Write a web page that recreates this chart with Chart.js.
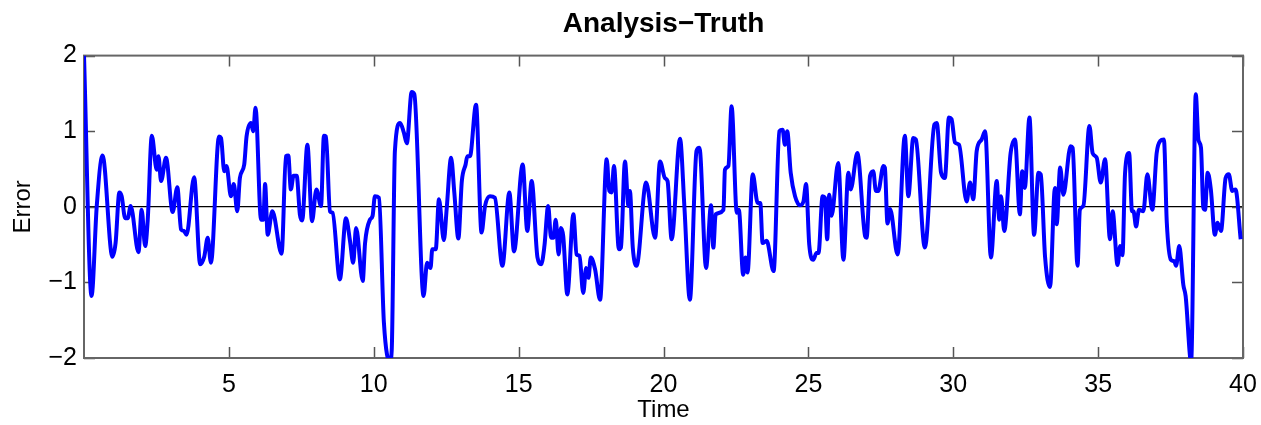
<!doctype html>
<html lang="en">
<head>
  <title>Analysis−Truth</title>
  <meta charset="utf-8">
  <script src="https://cdn.jsdelivr.net/npm/chart.js@4.4.1/dist/chart.umd.min.js"></script>
  <style>
    html, body { margin: 0; padding: 0; background: #fff; }
    #wrap { width: 1261px; height: 425px; }
  </style>
</head>

<body>
  <div id="wrap"><canvas id="errorChart"></canvas></div>

  <script>
    // values (time, analysis minus truth)
    var times = [
      0.00, 0.26, 0.44, 0.64, 0.98, 1.09, 1.22, 1.30, 1.42, 1.51, 1.61, 1.88, 1.99, 2.11, 2.20, 2.34, 2.51, 2.57, 2.66, 2.83,
      3.06, 3.22, 3.35, 3.45, 3.54, 3.80, 4.01, 4.15, 4.27, 4.38, 4.66, 4.73, 4.84, 4.92, 5.07, 5.17, 5.29, 5.38, 5.53, 5.61,
      5.76, 5.84, 5.92, 6.11, 6.19, 6.25, 6.34, 6.50, 6.82, 6.97, 7.05, 7.14, 7.23, 7.34, 7.45, 7.53, 7.71, 7.87, 8.02, 8.18,
      8.28, 8.35, 8.49, 8.58, 8.83, 9.04, 9.18, 9.29, 9.39, 9.62, 9.70, 9.87, 9.96, 10.04, 10.18, 10.35, 10.56, 10.62, 10.73, 10.91,
      11.04, 11.14, 11.31, 11.40, 11.72, 11.84, 11.96, 12.02, 12.14, 12.25, 12.42, 12.52, 12.67, 12.78, 12.92, 13.04, 13.17, 13.23, 13.32, 13.53,
      13.72, 13.84, 14.01, 14.18, 14.44, 14.68, 14.84, 15.14, 15.30, 15.45, 15.65, 15.78, 15.89, 16.02, 16.12, 16.20, 16.28, 16.38, 16.46, 16.54,
      16.68, 16.89, 17.00, 17.10, 17.23, 17.33, 17.41, 17.49, 17.64, 17.81, 18.04, 18.13, 18.21, 18.29, 18.46, 18.53, 18.67, 18.79, 18.84, 18.94,
      19.07, 19.40, 19.71, 19.88, 20.05, 20.14, 20.28, 20.57, 20.72, 20.91, 21.14, 21.24, 21.47, 21.64, 21.72, 21.80, 22.07, 22.12, 22.24, 22.35,
      22.53, 22.60, 22.75, 22.83, 22.90, 23.08, 23.25, 23.34, 23.42, 23.56, 23.80, 24.00, 24.11, 24.19, 24.27, 24.39, 24.54, 24.71, 24.83, 24.92,
      25.03, 25.17, 25.28, 25.35, 25.49, 25.57, 25.65, 25.72, 25.80, 26.03, 26.21, 26.38, 26.46, 26.69, 26.96, 27.01, 27.13, 27.24, 27.33, 27.41,
      27.59, 27.64, 27.73, 27.82, 28.08, 28.33, 28.45, 28.62, 28.71, 29.02, 29.35, 29.43, 29.58, 29.71, 29.85, 29.94, 30.06, 30.20, 30.46, 30.58,
      30.69, 30.81, 30.98, 31.10, 31.30, 31.50, 31.59, 31.65, 31.76, 31.98, 32.13, 32.30, 32.38, 32.47, 32.63, 32.79, 32.94, 33.02, 33.17, 33.34,
      33.51, 33.57, 33.69, 33.80, 34.05, 34.12, 34.29, 34.37, 34.49, 34.70, 34.81, 34.95, 35.09, 35.24, 35.41, 35.50, 35.67, 35.76, 35.84, 35.93,
      36.07, 36.17, 36.22, 36.31, 36.41, 36.56, 36.70, 36.87, 37.02, 37.14, 37.27, 37.37, 37.51, 37.63, 37.69, 37.80, 37.94, 38.02, 38.21, 38.37,
      38.46, 38.55, 38.63, 38.69, 38.78, 38.89, 39.03, 39.12, 39.24, 39.40, 39.51, 39.63, 39.74, 39.92
    ];
    var errors = [
      2.00, -1.18, 0.01, 0.68, -0.66, -0.48, 0.19, 0.14, -0.15, -0.15, 0.01, -0.60, -0.04, -0.52, -0.17, 0.94, 0.49, 0.67, 0.34, 0.65,
      -0.07, 0.26, -0.30, -0.32, -0.37, 0.39, -0.76, -0.66, -0.41, -0.74, 0.93, 0.91, 0.47, 0.54, 0.14, 0.30, -0.06, 0.38, 0.56, 0.93,
      1.11, 1.00, 1.31, -0.17, -0.17, 0.30, -0.37, -0.06, -0.62, 0.67, 0.68, 0.23, 0.41, 0.41, -0.10, -0.18, 0.82, -0.19, 0.23, 0.01,
      0.94, 0.93, -0.06, -0.08, -0.96, -0.15, -0.45, -0.74, -0.28, -0.98, -0.48, -0.17, -0.12, 0.14, 0.12, -1.53, -2.05, -1.90, 0.74, 1.11,
      0.98, 0.84, 1.52, 1.49, -1.18, -0.74, -0.81, -0.56, -0.56, 0.10, -0.44, -0.01, 0.65, 0.19, -0.42, 0.34, 0.56, 0.67, 0.67, 1.35,
      -0.34, 0.01, 0.14, 0.12, -0.78, 0.19, -0.59, 0.56, -0.32, 0.34, -0.67, -0.76, -0.52, 0.01, -0.41, -0.41, -0.17, -0.63, -0.28, -0.39,
      -1.16, -0.10, -0.63, -0.65, -1.14, -0.81, -0.94, -0.67, -0.83, -1.23, 0.63, 0.21, 0.19, 0.54, -0.56, -0.54, 0.60, 0.01, 0.21, -0.54,
      -0.78, 0.32, -0.41, 0.60, 0.38, 0.34, -0.43, 0.90, 0.01, -1.23, 0.74, 0.78, -0.81, 0.02, -0.54, -0.10, -0.04, 0.49, 0.54, 1.33,
      -0.08, -0.04, -0.90, -0.67, -0.87, 0.43, 0.05, 0.05, -0.48, -0.45, -0.85, 1.00, 1.02, 0.82, 1.00, 0.45, 0.14, 0.02, 0.07, 0.30,
      -0.50, -0.70, -0.61, -0.61, 0.14, 0.12, -0.43, 0.16, -0.12, 0.58, -0.70, 0.45, 0.23, 0.71, -0.39, -0.41, 0.41, 0.47, 0.21, 0.21,
      0.54, 0.52, -0.22, -0.03, -0.63, 0.94, 0.14, 0.91, 0.89, -0.54, 1.09, 1.11, 0.45, 0.38, 1.18, 1.16, 0.85, 0.82, 0.07, 0.32,
      0.10, 0.74, 0.89, 1.00, -0.67, 0.34, -0.17, 0.14, -0.32, 0.71, 0.89, -0.10, 0.47, 0.25, 1.18, -0.37, 0.45, 0.43, -0.67, -1.06,
      0.25, -0.23, 0.52, 0.16, 0.80, 0.78, -0.78, -0.04, 0.01, 1.07, 0.71, 0.65, 0.32, 0.63, -0.43, -0.06, -0.77, -0.52, -0.64, 0.45,
      0.71, -0.06, -0.06, -0.26, -0.04, -0.06, 0.43, -0.04, 0.71, 0.87, 0.89, -0.21, -0.70, -0.72, -0.78, -0.52, -1.03, -1.18, -2.05, 1.49,
      0.89, 0.78, -0.01, -0.04, 0.45, 0.23, -0.37, -0.21, -0.32, 0.38, 0.43, 0.21, 0.23, -0.43
    ];
    var xTicks = [5, 10, 15, 20, 25, 30, 35, 40];
    var yTicks = [-2, -1, 0, 1, 2];

    var points = times.map(function (t, i) { return { x: t, y: errors[i] }; });

    Chart.defaults.font.family = '"Liberation Sans", Arial, Helvetica, sans-serif';
    Chart.defaults.color = '#000';

    // MATLAB style box with ticks pointing inwards
    var boxPlugin = {
      id: 'box',
      beforeDatasetsDraw: function (chart) {
        var a = chart.chartArea, ctx = chart.ctx;
        var xs = chart.scales.x, ys = chart.scales.y;
        ctx.save();
        ctx.strokeStyle = '#555';
        ctx.lineWidth = 1.5;
        ctx.beginPath();
        xTicks.forEach(function (v) {
          var px = Math.round(xs.getPixelForValue(v)) + 0.5;
          ctx.moveTo(px, a.bottom); ctx.lineTo(px, a.bottom - 11);
          ctx.moveTo(px, a.top); ctx.lineTo(px, a.top + 11);
        });
        yTicks.forEach(function (v) {
          var py = Math.round(ys.getPixelForValue(v)) + 0.5;
          ctx.moveTo(a.left, py); ctx.lineTo(a.left + 11, py);
          ctx.moveTo(a.right, py); ctx.lineTo(a.right - 11, py);
        });
        ctx.stroke();
        ctx.lineWidth = 2;
        ctx.strokeStyle = '#666';
        ctx.strokeRect(a.left, a.top, a.right - a.left, a.bottom - a.top);
        ctx.restore();
      }
    };

    var errorChart = new Chart(document.getElementById('errorChart'), {
      type: 'line',
      data: {
        datasets: [{
          data: points,
          borderColor: '#0000ff',
          borderWidth: 4,
          pointRadius: 0,
          cubicInterpolationMode: 'monotone',
          borderJoinStyle: 'round',
          clip: 0
        }]
      },
      options: {
        responsive: true,
        maintainAspectRatio: false,
        animation: false,
        devicePixelRatio: 1,
        layout: { padding: { right: 18 } },
        plugins: {
          legend: { display: false },
          tooltip: { enabled: false },
          title: {
            display: true,
            text: 'Analysis\u2212Truth',
            fullSize: false,
            font: { size: 28, weight: 'bold' },
            padding: { top: 7, bottom: 15 }
          }
        },
        scales: {
          x: {
            type: 'linear',
            min: 0,
            max: 40,
            afterBuildTicks: function (s) { s.ticks = xTicks.map(function (v) { return { value: v }; }); },
            afterFit: function (s) { s.height = 67; s.paddingLeft = 0; s.paddingRight = 0; },
            ticks: { font: { size: 25 }, padding: 12, maxRotation: 0, autoSkip: false },
            grid: { display: false, drawTicks: false },
            border: { display: false },
            title: { display: true, text: 'Time', font: { size: 24 }, padding: { top: 2, bottom: 0 } }
          },
          y: {
            min: -2,
            max: 2,
            afterBuildTicks: function (s) { s.ticks = yTicks.map(function (v) { return { value: v }; }); },
            afterFit: function (s) { s.width = 84; },
            ticks: {
              font: { size: 25 },
              padding: 7,
              callback: function (v) { return v < 0 ? '\u2212' + Math.abs(v) : String(v); }
            },
            grid: {
              drawTicks: false,
              lineWidth: 1.2,
              color: function (c) { return c.tick && c.tick.value === 0 ? '#000' : 'rgba(0,0,0,0)'; }
            },
            border: { display: false },
            title: { display: true, text: 'Error', font: { size: 24 }, padding: { top: 9, bottom: 0 } }
          }
        }
      },
      plugins: [boxPlugin]
    });
  </script>
</body>
</html>
